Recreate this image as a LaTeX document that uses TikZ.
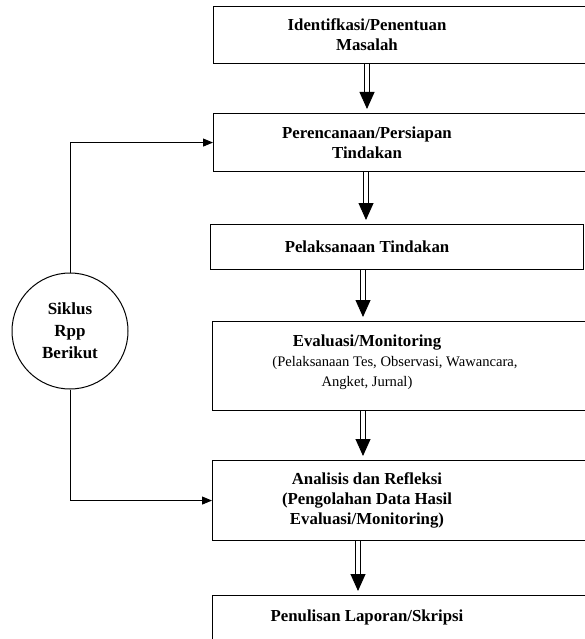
\documentclass[tikz,border=0pt]{standalone}
\usepackage{fontspec}
\setmainfont{Liberation Serif}
\usetikzlibrary{arrows.meta,calc}
\newcommand{\subtxt}{\fontsize{14.6}{18}\selectfont\mdseries}

\begin{document}
\begin{tikzpicture}[x=1pt,y=1pt,yscale=-1,
  box/.style={draw, line width=1.1pt, anchor=north west, minimum width=400pt, inner sep=0pt},
  lbl/.style={align=center, inner sep=0pt, font=\fontsize{16.8}{20}\selectfont\bfseries},
  dblshaft/.style={draw, double, double distance=3.2pt, line width=1pt},
  headdn/.style={-{Triangle[length=17pt,width=15pt]}, line width=0.9pt},
  back/.style={draw, line width=1pt, -{Triangle[length=10pt,width=8pt]}}]
\useasboundingbox (0,0) rectangle (585,639);
\clip (0,0) rectangle (585,639);

\coordinate (colx) at (367,0);

% Boxes
\node[box, minimum height=57pt] (b1) at (213,6) {};
\node[box, minimum height=58pt] (b2) at (213,113) {};
\node[box, minimum height=45pt, minimum width=373pt] (b3) at (210,224) {};
\node[box, minimum height=89pt] (b4) at (212,321) {};
\node[box, minimum height=80pt] (b5) at (212,460) {};
\node[box, minimum height=60pt] (b6) at (212,595) {};

% Text Node
\node[lbl] (t1) at (b1.center -| colx) {Identifkasi/Penentuan\\Masalah};
\node[lbl] (t2) at (b2.center -| colx) {Perencanaan/Persiapan\\Tindakan};
\node[lbl] (t3) at (b3.center -| colx) {Pelaksanaan Tindakan};
\node[lbl] (t4) at ([yshift=-4pt]b4.center -| colx) {Evaluasi/Monitoring\\{\subtxt\hspace*{56pt}(Pelaksanaan Tes, Observasi, Wawancara,}\\{\subtxt Angket, Jurnal)}};
\node[lbl] (t5) at (b5.center -| colx) {Analisis dan Refleksi\\(Pengolahan Data Hasil\\Evaluasi/Monitoring)};
\node[lbl, anchor=center] (t6) at ([yshift=22pt]b6.north -| colx) {Penulisan Laporan/Skripsi};

% Circle
\node[draw, circle, line width=1pt, minimum size=116pt, inner sep=0pt,
  lbl, font=\fontsize{17}{22}\selectfont\bfseries] (sik) at (70,331) {Siklus\\Rpp\\Berikut};

% Double arrows
\foreach \a/\b/\dx in {b1/b2/0, b2/b3/-1, b3/b4/-4, b4/b5/-4, b5/b6/-9} {
  \draw[dblshaft] ([xshift=\dx pt]\a.south -| colx) -- ([xshift=\dx pt, yshift=-14pt]\b.north -| colx);
  \draw[headdn] ([xshift=\dx pt, yshift=-17pt]\b.north -| colx) -- ([xshift=\dx pt, yshift=-4pt]\b.north -| colx);
}

% Straight Lines
\draw[back] (sik.north) |- (b2.west);
\draw[back] (sik.south) |- (b5.west);

\end{tikzpicture}
\end{document}
